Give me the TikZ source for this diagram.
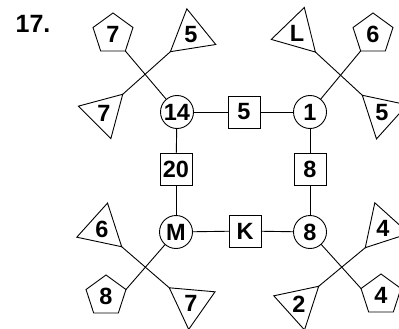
\documentclass[tikz,border=0pt]{standalone}
\usepackage{fontspec}
\setmainfont{Liberation Sans}
\usetikzlibrary{shapes.geometric}
\begin{document}
\begin{tikzpicture}[x=1pt,y=-1pt,
  shp/.style={draw, font=\fontsize{23.5}{23.5}\selectfont\bfseries, inner sep=0pt, outer sep=0pt, line width=0.9pt},
  circ/.style={shp, circle, minimum size=33pt},
  sq/.style={shp, rectangle, minimum size=32pt},
  tri/.style={shp, regular polygon, regular polygon sides=3, minimum size=53pt},
  pent/.style={shp, regular polygon, regular polygon sides=5, minimum size=42pt},
  conn/.style={line width=0.9pt}]
\clip (0,0) rectangle (399,329);
\node[font=\fontsize{25}{25}\selectfont\bfseries, inner sep=0pt] (title) at (33,24) {17.};
% circles
\node[circ] (c14) at (177,112) {14};
\node[circ] (c1) at (310,112) {1};
\node[circ] (cM) at (176,232) {M};
\node[circ] (c8) at (310,232) {8};
% squares
\node[sq] (s5) at (244,112) {5};
\node[sq] (s20) at (176,169) {20};
\node[sq] (s8) at (310,169) {8};
\node[sq] (sK) at (245,231) {K};
% pentagons
\node[pent] (pTL) at (113,34) {7};
\node[pent] (pTR) at (373,34) {6};
\node[pent] (pBL) at (106,296) {8};
\node[pent] (pBR) at (381,295) {4};
% triangles
\node[tri, shape border rotate=-45] (tTL7) at (104,113) {7};
\node[tri, shape border rotate=129] (tTL5) at (191,35) {5};
\node[tri, shape border rotate=-136] (tTRL) at (297,33) {L};
\node[tri, shape border rotate=48] (tTR5) at (382,113) {5};
\node[tri, shape border rotate=-132] (tBL6) at (102,229) {6};
\node[tri, shape border rotate=55] (tBL7) at (191,303) {7};
\node[tri, shape border rotate=138] (tBR4) at (383,228) {4};
\node[tri, shape border rotate=-48] (tBR2) at (299,304) {2};
% square connectors
\draw[conn] (c14) -- (s5);
\draw[conn] (s5) -- (c1);
\draw[conn] (c14) -- (s20);
\draw[conn] (s20) -- (cM);
\draw[conn] (c1) -- (s8);
\draw[conn] (s8) -- (c8);
\draw[conn] (cM) -- (sK);
\draw[conn] (sK) -- (c8);
% crosses
\draw[conn] (c14) -- (pTL.corner 4);
\draw[conn] (tTL5.corner 1) -- (tTL7.corner 1);
\draw[conn] (c1) -- (pTR.corner 3);
\draw[conn] (tTRL.corner 1) -- (tTR5.corner 1);
\draw[conn] (cM) -- (pBL.corner 5);
\draw[conn] (tBL6.corner 1) -- (tBL7.corner 1);
\draw[conn] (c8) -- (pBR.corner 2);
\draw[conn] (tBR4.corner 1) -- (tBR2.corner 1);
\end{tikzpicture}
\end{document}
